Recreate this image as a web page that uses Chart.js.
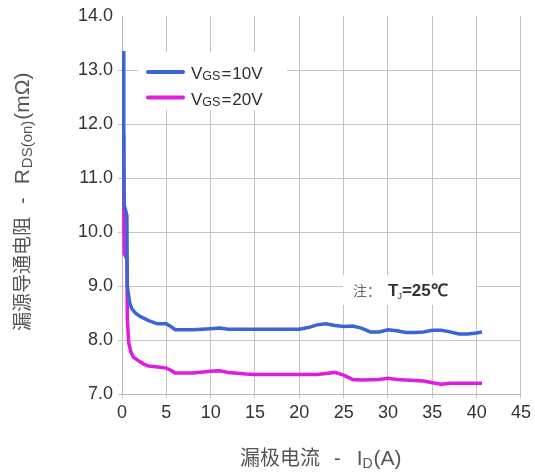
<!DOCTYPE html>
<html>
<head>
<meta charset="utf-8">
<script src="https://cdn.jsdelivr.net/npm/chart.js@4/dist/chart.umd.min.js"></script>
<style>
  html, body { margin: 0; padding: 0; background: #ffffff; }
  canvas { display: block; }
</style>
</head>
<body>
<canvas id="c" width="535" height="473"></canvas>
<script>
// Drain current I_D (A) and on-resistance R_DS(on) (mΩ) for two gate voltages
const id10 = [0.18,0.2,0.25,0.55,0.6,0.85,1.1,1.5,2,2.5,3,4,5,5.5,6,8,10,11,12,15,18,20,21,22,23,24,25,26,27,28,29,30,31,32,33,34,35,36,37,38,39,40,40.6];
const rds10 = [13.35,11.5,10.5,10.3,9.0,8.7,8.58,8.5,8.44,8.4,8.36,8.3,8.3,8.25,8.19,8.19,8.21,8.22,8.2,8.2,8.2,8.2,8.23,8.28,8.3,8.27,8.25,8.26,8.22,8.15,8.15,8.19,8.17,8.14,8.14,8.15,8.18,8.18,8.15,8.11,8.11,8.13,8.15];

const id20 = [0.18,0.2,0.25,0.55,0.6,0.75,1,1.3,2,2.5,3,4,5,5.5,6,8,10,11,12,14,15,20,22,23,24,25,26,27,29,30,31,33,34,35,36,37,38,40,40.6];
const rds20 = [11.8,10.5,9.6,9.5,8.4,7.95,7.78,7.68,7.6,7.55,7.52,7.5,7.48,7.44,7.39,7.39,7.42,7.43,7.4,7.37,7.36,7.36,7.36,7.38,7.4,7.35,7.27,7.26,7.27,7.29,7.27,7.25,7.24,7.21,7.18,7.2,7.2,7.2,7.2];

const xTicks = [0,5,10,15,20,25,30,35,40,45];
const yTicks = [7.0,8.0,9.0,10.0,11.0,12.0,13.0,14.0];

const BLUE = '#3a66d4';
const MAGENTA = '#e01ce0';
const LATIN = '"Liberation Sans", Arial, sans-serif';
const CJK = '"Noto Sans CJK SC", "Noto Sans", sans-serif';

function pts(xs, ys) { return xs.map((x, i) => ({ x: x, y: ys[i] })); }

// Draw a run of text pieces (with sub-scripts) starting at (x0, y0)
function drawRun(ctx, parts, x0, y0, color) {
  ctx.save();
  ctx.fillStyle = color;
  ctx.textBaseline = 'alphabetic';
  ctx.textAlign = 'left';
  let x = x0;
  parts.forEach(p => {
    ctx.font = p.font;
    ctx.fillText(p.t, x, y0 + (p.dy || 0));
    x += ctx.measureText(p.t).width + (p.gap || 0);
  });
  ctx.restore();
}

const decorations = {
  id: 'decorations',
  beforeDatasetsDraw(chart) {
    const ctx = chart.ctx;
    ctx.save();
    ctx.fillStyle = '#ffffff';
    // legend panel and note panel backgrounds
    ctx.fillRect(138, 52, 149, 58);
    ctx.fillRect(343, 275, 133, 30);
    ctx.restore();

    // legend
    const entries = [
      { color: BLUE, num: '10V', y: 72 },
      { color: MAGENTA, num: '20V', y: 97.5 }
    ];
    entries.forEach(e => {
      ctx.save();
      ctx.strokeStyle = e.color;
      ctx.lineWidth = 4;
      ctx.lineCap = 'round';
      ctx.beginPath();
      ctx.moveTo(148, e.y);
      ctx.lineTo(183, e.y);
      ctx.stroke();
      ctx.restore();
      drawRun(ctx, [
        { t: 'V', font: '17px ' + LATIN },
        { t: 'GS', font: '12.5px ' + LATIN, dy: 1, gap: 1 },
        { t: '=', font: '17px ' + LATIN, gap: 1 },
        { t: e.num, font: '17px ' + LATIN }
      ], 191, e.y + 7, '#2e2e2e');
    });

    // note
    drawRun(ctx, [{ t: '注：', font: '14px ' + CJK }], 353, 296, '#666666');
    drawRun(ctx, [
      { t: 'T', font: 'bold 17px ' + LATIN, gap: -1 },
      { t: 'J', font: '9px ' + LATIN, dy: 3 },
      { t: '=25℃', font: 'bold 17px ' + LATIN }
    ], 388, 296, '#333333');
  },
  afterDraw(chart) {
    const ctx = chart.ctx;
    // x axis title
    drawRun(ctx, [
      { t: '漏极电流', font: '20px ' + CJK, gap: 14 },
      { t: '-', font: '20px ' + LATIN, gap: 16 },
      { t: 'I', font: '21px ' + LATIN },
      { t: 'D', font: '14px ' + LATIN, dy: 3, gap: 1 },
      { t: '(A)', font: '21px ' + LATIN }
    ], 240, 465, '#555555');
    // y axis title, reading bottom to top
    ctx.save();
    ctx.translate(29, 331);
    ctx.rotate(-Math.PI / 2);
    drawRun(ctx, [
      { t: '漏源导通电阻', font: '19px ' + CJK, gap: 13 },
      { t: '-', font: '20px ' + LATIN, gap: 13 },
      { t: 'R', font: '21px ' + LATIN, gap: 1 },
      { t: 'DS(on)', font: '15px ' + LATIN, dy: 3, gap: 1 },
      { t: '(mΩ)', font: '21px ' + LATIN }
    ], 0, 0, '#555555');
    ctx.restore();
  }
};

const GRID = '#c4c4c4';

new Chart(document.getElementById('c'), {
  type: 'line',
  data: {
    datasets: [
      { label: 'VGS=10V', data: pts(id10, rds10), borderColor: BLUE, borderWidth: 3.5, pointRadius: 0, tension: 0, fill: false },
      { label: 'VGS=20V', data: pts(id20, rds20), borderColor: MAGENTA, borderWidth: 3.5, pointRadius: 0, tension: 0, fill: false }
    ]
  },
  options: {
    responsive: false,
    devicePixelRatio: 1,
    animation: false,
    layout: { padding: { top: 16, right: 14, bottom: 0, left: 0 } },
    plugins: { legend: { display: false }, tooltip: { enabled: false } },
    scales: {
      x: {
        type: 'linear',
        min: 0, max: 45,
        afterBuildTicks: s => { s.ticks = xTicks.map(v => ({ value: v })); },
        afterFit: s => { s.height = 79; },
        ticks: { color: '#333333', font: { family: LATIN, size: 18 }, padding: 4, maxRotation: 0, callback: v => String(v) },
        grid: { color: GRID, lineWidth: 1, tickLength: 4 },
        border: { color: '#b8b8b8', width: 1 }
      },
      y: {
        type: 'linear',
        min: 7, max: 14,
        afterBuildTicks: s => { s.ticks = yTicks.map(v => ({ value: v })); },
        afterFit: s => { s.width = 122; },
        ticks: { color: '#333333', font: { family: LATIN, size: 18 }, padding: 5, callback: v => v.toFixed(1) },
        grid: { color: c => (c.tick && c.tick.value === 14 ? 'rgba(0,0,0,0)' : GRID), lineWidth: 1, tickLength: 4 },
        border: { color: '#b8b8b8', width: 1 }
      }
    }
  },
  plugins: [decorations]
});
</script>
</body>
</html>
